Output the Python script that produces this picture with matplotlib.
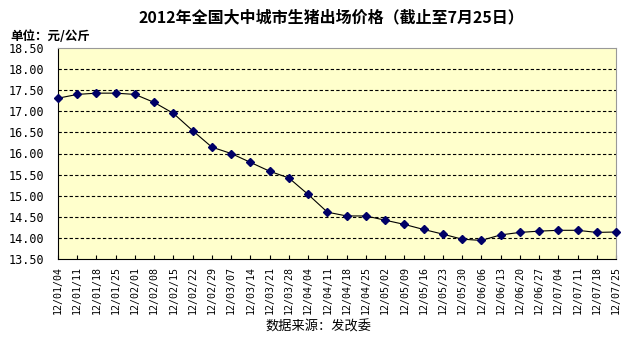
import matplotlib.pyplot as plt

plt.rcParams['font.family'] = ['Noto Sans CJK SC', 'DejaVu Sans']

dates = ["12/01/04", "12/01/11", "12/01/18", "12/01/25", "12/02/01", "12/02/08",
         "12/02/15", "12/02/22", "12/02/29", "12/03/07", "12/03/14", "12/03/21",
         "12/03/28", "12/04/04", "12/04/11", "12/04/18", "12/04/25", "12/05/02",
         "12/05/09", "12/05/16", "12/05/23", "12/05/30", "12/06/06", "12/06/13",
         "12/06/20", "12/06/27", "12/07/04", "12/07/11", "12/07/18", "12/07/25"]
price = [17.31, 17.40, 17.43, 17.43, 17.40, 17.21, 16.95, 16.54, 16.15, 16.00,
         15.79, 15.58, 15.42, 15.03, 14.61, 14.52, 14.52, 14.42, 14.32, 14.20,
         14.09, 13.97, 13.94, 14.07, 14.13, 14.16, 14.18, 14.18, 14.13, 14.14]
yticks = [13.5, 14.0, 14.5, 15.0, 15.5, 16.0, 16.5, 17.0, 17.5, 18.0, 18.5]

fig = plt.figure(figsize=(6.36, 3.42), dpi=100)
ax = fig.add_axes([58 / 636, 1 - 259 / 342, 558 / 636, 211 / 342])
ax.set_facecolor("#ffffcc")

x = list(range(len(dates)))
ax.plot(x, price, color="black", lw=0.8, zorder=3, clip_on=False)
ax.plot(x, price, ls="none", marker="D", ms=3.8, color="#000066", zorder=4, clip_on=False)

ax.set_xlim(0, len(dates) - 1)
ax.set_ylim(13.5, 18.5)
ax.set_yticks(yticks)
ax.set_yticklabels([f"{v:.2f}" for v in yticks], fontsize=8.5, family="DejaVu Sans Mono")
ax.set_xticks(x)
ax.set_xticklabels(dates, rotation=90, fontsize=7.2, family="DejaVu Sans Mono")
ax.tick_params(axis="x", direction="in", length=3, width=0.8, pad=5)
ax.tick_params(axis="y", length=0, pad=10)

for v in yticks[1:-1]:
    ax.axhline(v, color="black", lw=0.8, ls=(0, (3, 2)), zorder=1)

ax.spines["left"].set_color("black")
ax.spines["bottom"].set_color("black")
ax.spines["top"].set_color("#999999")
ax.spines["right"].set_color("#999999")
for s in ax.spines.values():
    s.set_linewidth(0.8)

fig.text(331 / 636, 1 - 17 / 342, "2012年全国大中城市生猪出场价格（截止至7月25日）",
         ha="center", va="center", fontsize=11.5, fontweight="bold")
fig.text(10 / 636, 1 - 36 / 342, "单位：元/公斤", ha="left", va="center",
         fontsize=9, fontweight="bold")
fig.text(318 / 636, 1 - 327 / 342, "数据来源：发改委", ha="center", va="center", fontsize=9.5)

fig.savefig("out.png", dpi=100)
